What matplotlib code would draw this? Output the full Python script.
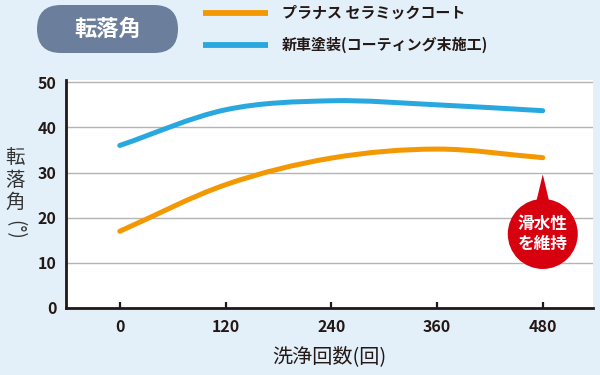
import numpy as np
import matplotlib
matplotlib.use('Agg')
import matplotlib.pyplot as plt
from matplotlib.path import Path
from matplotlib.patches import PathPatch, FancyBboxPatch, Ellipse, Polygon

plt.rcParams['font.family'] = ['Noto Sans CJK JP', 'DejaVu Sans']

# ── Data ─────────────────────────────────────────────────────────────────────
wash_counts = [0, 120, 240, 360, 480]
ceramic     = [17.0, 27.3, 33.2, 35.2, 33.3]   # プラナス セラミックコート
uncoated    = [36.0, 43.9, 45.9, 45.0, 43.7]   # 新車塗装(コーティング末施工)
y_ticks     = [0, 10, 20, 30, 40, 50]

C_BG     = '#E3F0F9'
C_ORANGE = '#F39800'
C_BLUE   = '#29A8E0'
C_DARK   = '#231815'
C_GRID   = '#B4B4B4'
C_BADGE  = '#6B7E9C'
C_RED    = '#D7000F'


def smooth_path(xs, ys):
    """Catmull-Rom through the points, drawn as cubic Bezier segments."""
    xs, ys = np.asarray(xs, float), np.asarray(ys, float)
    n = len(xs)
    tang = np.zeros(n)
    for i in range(n):
        a, b = max(i - 1, 0), min(i + 1, n - 1)
        tang[i] = (ys[b] - ys[a]) / (xs[b] - xs[a])
    verts = [(xs[0], ys[0])]
    codes = [Path.MOVETO]
    for i in range(n - 1):
        h = xs[i + 1] - xs[i]
        verts += [(xs[i] + h / 3, ys[i] + tang[i] * h / 3),
                  (xs[i + 1] - h / 3, ys[i + 1] - tang[i + 1] * h / 3),
                  (xs[i + 1], ys[i + 1])]
        codes += [Path.CURVE4] * 3
    return Path(verts, codes)


fig = plt.figure(figsize=(6, 3.75), dpi=100)
fig.patch.set_facecolor(C_BG)

ax = fig.add_axes([66 / 600, 1 - 308 / 375, (593 - 66) / 600, (308 - 80) / 375])
ax.set_facecolor('white')
ax.set_xlim(-61, 537)
ax.set_ylim(0, 50.5)

for s in ['top', 'right']:
    ax.spines[s].set_visible(False)
for s in ['left', 'bottom']:
    ax.spines[s].set_color(C_DARK)
    ax.spines[s].set_linewidth(2.0)

for yv in y_ticks[1:]:
    ax.axhline(yv, color=C_GRID, linewidth=1.0, zorder=1)

for ys, col in [(uncoated, C_BLUE), (ceramic, C_ORANGE)]:
    ax.add_patch(PathPatch(smooth_path(wash_counts, ys), facecolor='none',
                           edgecolor=col, linewidth=3.6, capstyle='round',
                           zorder=3))

ax.set_xticks(wash_counts)
ax.set_xticklabels([str(v) for v in wash_counts])
ax.set_yticks(y_ticks)
ax.tick_params(axis='x', direction='in', length=4.5, width=1.6,
               color=C_DARK, pad=8)
ax.tick_params(axis='y', length=0, pad=7)
for lbl in ax.get_xticklabels() + ax.get_yticklabels():
    lbl.set_fontweight('bold')
    lbl.set_fontsize(11.5)
    lbl.set_color(C_DARK)

ax.set_xlabel('洗浄回数(回)', fontsize=14.5, color=C_DARK, labelpad=8)

# vertical y-label
for ch, yp in zip(['転', '落', '角'], [157, 180, 202]):
    fig.text(15 / 600, 1 - yp / 375, ch, fontsize=14, color='#333333',
             ha='center', va='center')
fig.text(15 / 600, 1 - 230 / 375, '(°)', fontsize=13.5, color='#333333',
         ha='center', va='center', rotation=-90)

# callout bubble anchored at the last point
cx, tip_y, cy = wash_counts[-1], 29.6, 16.4
rx, ry = 35 * 598 / 527, 35 * 50.5 / 228
ax.add_patch(Polygon([(cx - 9, cy + ry * 0.75), (cx + 9, cy + ry * 0.75),
                      (cx, tip_y)], closed=True, facecolor=C_RED,
                     edgecolor='none', zorder=4))
ax.add_patch(Ellipse((cx, cy), 2 * rx, 2 * ry, facecolor=C_RED,
                     edgecolor='none', zorder=4))
ax.text(cx, cy, '滑水性\nを維持', color='white', fontsize=12,
        fontweight='bold', ha='center', va='center', linespacing=1.2,
        zorder=5)

# header: badge + legend, drawn in pixel coordinates
ov = fig.add_axes([0, 0, 1, 1], zorder=10)
ov.set_xlim(0, 600)
ov.set_ylim(375, 0)
ov.axis('off')
ov.patch.set_alpha(0)
ov.add_patch(FancyBboxPatch((37, 5), 141, 48,
                            boxstyle='round,pad=0,rounding_size=24',
                            facecolor=C_BADGE, edgecolor='none'))
ov.text(108, 29.5, '転落角', color='white', fontsize=16, fontweight='bold',
        ha='center', va='center')

legend_items = [('プラナス セラミックコート', C_ORANGE, 13),
                ('新車塗装(コーティング末施工)', C_BLUE, 45)]
for label, col, yp in legend_items:
    ov.plot([203, 268], [yp, yp], color=col, linewidth=4.2,
            solid_capstyle='butt')
    ov.text(282, yp, label, color=C_DARK, fontsize=10.8, fontweight='bold',
            ha='left', va='center')

fig.savefig('out.png', dpi=100, facecolor=fig.get_facecolor())
